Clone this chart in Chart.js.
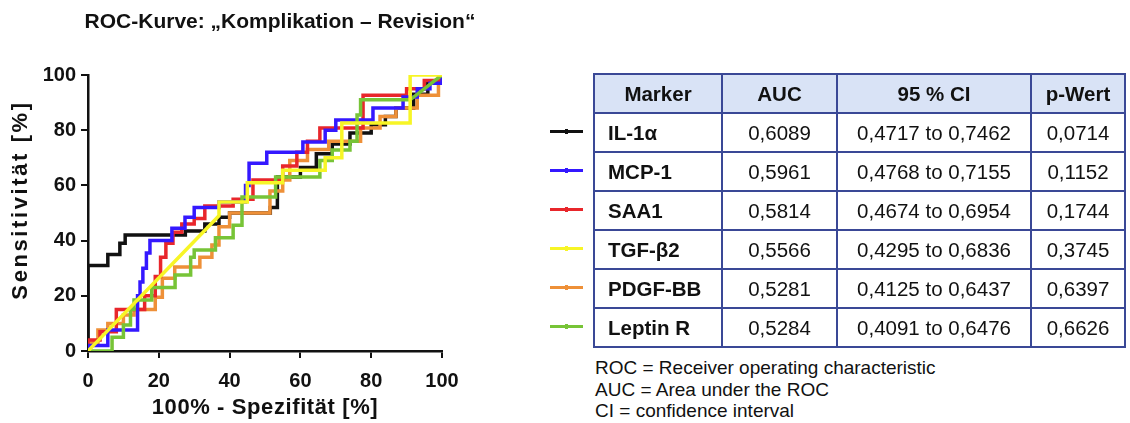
<!DOCTYPE html>
<html>
<head>
<meta charset="utf-8">
<script src="https://cdn.jsdelivr.net/npm/chart.js@4"></script>
<style>
  body { margin: 0; background: #fff; font-family: "Liberation Sans", Arial, sans-serif; }
  #wrap { position: relative; width: 1130px; height: 423px; overflow: hidden; }
  #roc { position: absolute; left: 0; top: 0; }
  table.auc {
    position: absolute; left: 593px; top: 73px;
    border-collapse: collapse; font-size: 20.5px; color: #111;
  }
  table.auc td, table.auc th {
    border: 2px solid #3a4896; height: 37px; padding: 0; text-align: center;
  }
  table.auc th { background: #d9e3f6; font-weight: bold; }
  table.auc td.name { font-weight: bold; text-align: left; padding-left: 13px; }
  .key { position: absolute; left: 550px; width: 33px; height: 3px; }
  .key i { position: absolute; left: 15px; top: -1px; width: 3px; height: 5px; }
  .notes { position: absolute; left: 595px; top: 357px; font-size: 19px; line-height: 21.5px; color: #111; }
</style>
</head>
<body>
<div id="wrap">
  <canvas id="roc" width="560" height="423"></canvas>
  <div id="keys"></div>
  <table class="auc" id="aucTable"></table>
  <div class="notes">
    ROC = Receiver operating characteristic<br>
    AUC = Area under the ROC<br>
    CI = confidence interval
  </div>
</div>
<script>
// marker names, colours and statistics
const markers = ['IL-1α', 'MCP-1', 'SAA1', 'TGF-β2', 'PDGF-BB', 'Leptin R'];
const colors = ['#111111', '#3418ff', '#e8262b', '#f7f526', '#ee9038', '#77c437'];
const auc = ['0,6089', '0,5961', '0,5814', '0,5566', '0,5281', '0,5284'];
const ci = ['0,4717 to 0,7462', '0,4768 to 0,7155', '0,4674 to 0,6954', '0,4295 to 0,6836', '0,4125 to 0,6437', '0,4091 to 0,6476'];
const pValue = ['0,0714', '0,1152', '0,1744', '0,3745', '0,6397', '0,6626'];

// ROC points: 100% - specificity (x) and sensitivity (y), in %
const il1aX = [0, 0, 5.6, 5.6, 9, 9, 10.5, 10.5, 27.5, 27.5, 33, 33, 37, 37, 40, 40, 51.5, 51.5, 53.5, 53.5, 60, 60, 64.5, 64.5, 69, 69, 74, 74, 80, 80, 84, 84, 87, 87, 92, 92, 96, 96, 100, 100];
const il1aY = [0, 31, 31, 35, 35, 39, 39, 42, 42, 43.5, 43.5, 46, 46, 48.5, 48.5, 50, 50, 52, 52, 63, 63, 66.5, 66.5, 71.5, 71.5, 75, 75, 79, 79, 82, 82, 85, 85, 88, 88, 93, 93, 97, 97, 100];

const mcp1X = [0, 0, 5.6, 5.6, 14, 14, 14.7, 14.7, 15.5, 15.5, 16.5, 16.5, 17.5, 17.5, 23.7, 23.7, 27.4, 27.4, 30, 30, 37, 37, 44.5, 44.5, 45.5, 45.5, 50.5, 50.5, 60.7, 60.7, 67, 67, 70, 70, 80.5, 80.5, 89, 89, 93, 93, 96.6, 96.6, 100, 100];
const mcp1Y = [0, 2, 2, 7.6, 7.6, 20, 20, 25, 25, 30, 30, 35.5, 35.5, 40, 40, 44.5, 44.5, 48.5, 48.5, 52, 52, 54, 54, 60, 60, 68, 68, 72, 72, 75.7, 75.7, 80, 80, 83.7, 83.7, 88, 88, 92, 92, 95, 95, 97, 97, 100];

const saa1X = [0, 0, 3.4, 3.4, 8, 8, 16, 16, 19, 19, 20.5, 20.5, 22, 22, 24, 24, 26.5, 26.5, 30, 30, 33, 33, 41, 41, 46.6, 46.6, 55, 55, 59, 59, 62, 62, 65.5, 65.5, 77.7, 77.7, 90, 90, 95, 95, 100, 100];
const saa1Y = [0, 4, 4, 7, 7, 15, 15, 20, 20, 27, 27, 34, 34, 39, 39, 43, 43, 46, 46, 48, 48, 52.5, 52.5, 55, 55, 62, 62, 67, 67, 72, 72, 76, 76, 80.8, 80.8, 92.7, 92.7, 95, 95, 98, 98, 100];

const tgfb2X = [0, 37, 37, 45, 45, 55, 55, 67, 67, 71.7, 71.7, 91, 91, 100];
const tgfb2Y = [0, 49, 54, 54, 61, 61, 65.5, 65.5, 70, 70, 82.6, 82.6, 100, 100];

const pdgfX = [0, 0, 2.8, 2.8, 5.6, 5.6, 10, 10, 13, 13, 19, 19, 21, 21, 24.5, 24.5, 31.6, 31.6, 35, 35, 37, 37, 40, 40, 51.4, 51.4, 55, 55, 57, 57, 62, 62, 68, 68, 77, 77, 82.5, 82.5, 87, 87, 93, 93, 99, 99, 100];
const pdgfY = [0, 3, 3, 7.6, 7.6, 10, 10, 13, 13, 15, 15, 19.5, 19.5, 26.4, 26.4, 30.4, 30.4, 34, 34, 38.4, 38.4, 45, 45, 50, 50, 58, 58, 62, 62, 69, 69, 73, 73, 76, 76, 80.8, 80.8, 85, 85, 88, 88, 92.7, 92.7, 100, 100];

const leptinX = [0, 6.8, 6.8, 10, 10, 12, 12, 13, 13, 18, 18, 24.6, 24.6, 29, 29, 30, 30, 36, 36, 41, 41, 43.5, 43.5, 53, 53, 65.5, 65.5, 69, 69, 74, 74, 76, 76, 77, 77, 91, 100];
const leptinY = [0, 0, 5, 5, 9.4, 9.4, 15, 15, 18.5, 18.5, 23, 23, 27.5, 27.5, 34, 34, 36.6, 36.6, 41, 41, 45.6, 45.6, 55.8, 55.8, 63, 63, 69, 69, 72.8, 72.8, 76, 76, 85.5, 85.5, 91, 91, 100];

const xs = [il1aX, mcp1X, saa1X, tgfb2X, pdgfX, leptinX];
const ys = [il1aY, mcp1Y, saa1Y, tgfb2Y, pdgfY, leptinY];
// stacking of the curves (lower = drawn later, on top)
const drawOrder = [5, 2, 3, 0, 4, 1];

const axisTicks = [0, 20, 40, 60, 80, 100];

function toPoints(x, y){
  return x.map((v, i) => ({x: v, y: y[i]}));
}

// table + legend keys
const table = document.getElementById('aucTable');
let html = '<tr><th style="width:126px">Marker</th><th style="width:113px">AUC</th><th style="width:192px">95 % CI</th><th style="width:92px">p-Wert</th></tr>';
markers.forEach((m, i) => {
  html += `<tr><td class="name">${m}</td><td>${auc[i]}</td><td>${ci[i]}</td><td>${pValue[i]}</td></tr>`;
});
table.innerHTML = html;

const keys = document.getElementById('keys');
markers.forEach((m, i) => {
  const k = document.createElement('div');
  k.className = 'key';
  k.style.top = (73 + 39 + 39 * i + 18) + 'px';
  k.style.background = colors[i];
  k.innerHTML = `<i style="background:${colors[i]}"></i>`;
  keys.appendChild(k);
});

const FONT = '"Liberation Sans", Arial, sans-serif';
const boldTick = {family: FONT, size: 20, weight: 'bold'};
const boldTitle = {family: FONT, size: 22, weight: 'bold'};

// axis titles: letter spacing and an optional vertical nudge
const spacedTitles = {
  id: 'spacedTitles',
  beforeDraw(chart){
    Object.values(chart.scales).forEach(s => {
      if (s._spaced) return;
      const orig = s.drawTitle.bind(s);
      const sp = s.options.title.spacing || '0px';
      const dy = s.options.title.shiftY || 0;
      s.drawTitle = (area) => {
        const ctx = chart.ctx;
        ctx.save();
        ctx.translate(0, dy);
        ctx.letterSpacing = sp;
        orig(area);
        ctx.restore();
      };
      s._spaced = true;
    });
  }
};

function axis(title, spacing, extra){
  return Object.assign({
    type: 'linear',
    min: 0,
    max: 100,
    afterBuildTicks: (s) => { s.ticks = axisTicks.map(v => ({value: v})); },
    ticks: {color: '#111', font: boldTick},
    grid: {display: true, drawOnChartArea: false, drawTicks: true, tickLength: 7, color: '#111', lineWidth: 2},
    border: {display: true, color: '#111', width: 2.5},
    title: {display: true, text: title, color: '#111', font: boldTitle, spacing: spacing}
  }, extra);
}

const xAxis = axis('100% - Spezifität [%]', '0.6px', {
  position: 'bottom',
  afterFit: (s) => { s.height = 72; }
});
xAxis.ticks.padding = 11;
xAxis.title.padding = {top: 0, bottom: 2};

const yAxis = axis('Sensitivität [%]', '2.6px', {
  position: 'left',
  afterFit: (s) => { s.width = 88; }
});
yAxis.ticks.padding = 5;
yAxis.title.padding = {top: 8, bottom: 0};
yAxis.title.shiftY = -13;

new Chart(document.getElementById('roc'), {
  type: 'line',
  data: {
    datasets: markers.map((m, i) => ({
      label: m,
      data: toPoints(xs[i], ys[i]),
      borderColor: colors[i],
      backgroundColor: colors[i],
      borderWidth: 3.5,
      pointRadius: 0,
      fill: false,
      tension: 0,
      order: drawOrder[i]
    }))
  },
  options: {
    responsive: false,
    animation: false,
    layout: {padding: 0},
    plugins: {
      legend: {display: false},
      tooltip: {enabled: false},
      title: {
        display: true,
        text: 'ROC-Kurve: „Komplikation – Revision“',
        color: '#111',
        font: {family: FONT, size: 21, weight: 'bold'},
        padding: {top: 10, bottom: 39.8}
      }
    },
    scales: {
      x: xAxis,
      y: yAxis,
      // empty right-hand axis keeps the plot narrow while the title spans the full width
      yRight: {
        type: 'linear', position: 'right', min: 0, max: 100,
        ticks: {display: false}, grid: {display: false}, border: {display: false},
        afterFit: (s) => { s.width = 118; }
      }
    }
  },
  plugins: [spacedTitles]
});
</script>
</body>
</html>
